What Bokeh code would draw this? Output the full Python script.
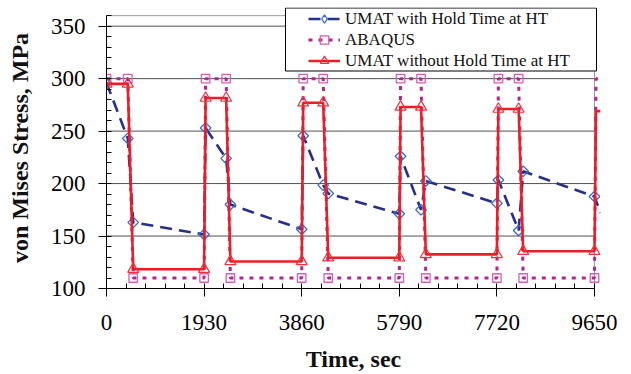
import numpy as np
from bokeh.plotting import figure
from bokeh.models import Range1d, SingleIntervalTicker, Legend, LegendItem, BoxAnnotation
from bokeh.embed import file_html
from bokeh.resources import INLINE

# ---- data ----
time_umat_hold = [0, 421, 528, 1930, 1960, 2366, 2450, 3860, 3890, 4285, 4385, 5790,
                  5815, 6220, 6315, 7720, 7750, 8150, 8240, 9650, 9770]
stress_umat_hold = [296, 243, 163, 151.5, 253, 224, 180, 156.5, 245.5, 198.5, 190.5, 171.2,
                    226, 175, 202.5, 181.2, 203.4, 155.3, 211.7, 187.6, 172]

time_abaqus = [0, 421, 528, 1930, 1960, 2366, 2450, 3860, 3890, 4285, 4385, 5790,
               5815, 6220, 6315, 7720, 7750, 8150, 8240, 9650, 9680, 9770]
stress_abaqus = [300, 300, 110, 110, 300, 300, 110, 110, 300, 300, 110, 110,
                 300, 300, 110, 110, 300, 300, 110, 110, 300, 300]

time_umat_nohold = [0, 421, 528, 1930, 1960, 2366, 2450, 3860, 3890, 4285, 4385, 5790,
                    5815, 6220, 6315, 7720, 7750, 8150, 8240, 9650, 9680, 9770]
stress_umat_nohold = [295, 295, 118.4, 118.4, 281.5, 281.5, 125.8, 125.8, 277, 277, 129.3, 129.3,
                      273, 273, 132.5, 132.5, 271, 271, 135.5, 135.5, 269, 269]

x_ticks_interval = 1930
y_ticks_interval = 50
y_grid_ticks = [150, 200, 250, 300, 350]
series_names = ["UMAT with Hold Time at HT", "ABAQUS", "UMAT without Hold Time at HT"]
x_title = "Time, sec"
y_title = "von Mises Stress, MPa"

X_MIN, X_MAX = 0, 9650      # axis limits of the chart
Y_MIN, Y_MAX = 100, 360
X_VIEW_END = 9769           # a little room so lines run past the last tick, as in the original
Y_VIEW_END = 367.8          # room above the frame for the legend box
FONT = "Liberation Serif"

BLUE_LINE, BLUE_MARK = "#262F8A", "#3A6CC6"
MAG_LINE, MAG_MARK = "#B0268C", "#DA5CB8"
RED_LINE, RED_MARK = "#EE1C25", "#F0303A"

p = figure(width=631, height=374, output_backend="svg", toolbar_location=None,
           x_range=Range1d(X_MIN, X_VIEW_END), y_range=Range1d(Y_MIN, Y_VIEW_END),
           min_border_left=106, min_border_right=31, min_border_top=7, min_border_bottom=85)
p.background_fill_color = "white"
p.border_fill_color = "white"
p.outline_line_color = None

# axes
p.xaxis.ticker = SingleIntervalTicker(interval=x_ticks_interval, num_minor_ticks=5)
p.yaxis.ticker = SingleIntervalTicker(interval=y_ticks_interval, num_minor_ticks=5)
p.xaxis.bounds = (X_MIN, X_MAX)
p.yaxis.bounds = (Y_MIN, Y_MAX)
for ax in (p.xaxis[0], p.yaxis[0]):
    ax.axis_line_color = "black"
    ax.axis_line_width = 1
    ax.major_tick_line_color = "black"
    ax.minor_tick_line_color = "black"
    ax.major_tick_in = 0
    ax.major_tick_out = 8
    ax.minor_tick_in = 5
    ax.minor_tick_out = 0
    ax.major_label_text_font = FONT
    ax.major_label_text_font_size = "23px"
    ax.major_label_text_color = "black"
    ax.axis_label_text_font = FONT
    ax.axis_label_text_font_size = "24px"
    ax.axis_label_text_font_style = "bold"
    ax.axis_label_text_color = "#111111"

p.xaxis.axis_label = x_title
p.yaxis.axis_label = y_title
p.xaxis.major_label_standoff = 18
p.xaxis.axis_label_standoff = 13
p.yaxis.major_label_standoff = 13
p.yaxis.axis_label_standoff = 15

p.xgrid.visible = False
p.ygrid.visible = False

# horizontal grid lines and the grey top/right frame edges of the original chart
n = len(y_grid_ticks)
p.segment(x0=[X_MIN] * n, x1=[X_MAX] * n, y0=y_grid_ticks, y1=y_grid_ticks,
          line_color="#505050", line_width=1)
p.segment(x0=[X_MIN, X_MAX], x1=[X_MAX, X_MAX], y0=[Y_MAX, Y_MIN], y1=[Y_MAX, Y_MAX],
          line_color="#9a9a9a", line_width=1)

# series
def marker_subset(t, s):
    t = np.asarray(t, dtype=float)
    s = np.asarray(s, dtype=float)
    m = t <= X_MAX
    return t[m], s[m]

l1 = p.line(time_umat_hold, stress_umat_hold, line_color=BLUE_LINE, line_width=2.6, line_dash="12 7")
mx, my = marker_subset(time_umat_hold, stress_umat_hold)
p.scatter(mx, my, marker="square", angle=np.pi / 4, size=7.5, fill_alpha=0,
          line_color=BLUE_MARK, line_width=1.3)
# legend swatch: legend markers are drawn unrotated, so use a zero-size diamond
# renderer (invisible in the plot, drawn at legend size in the legend)
s1 = p.scatter(mx, my, marker="diamond", size=0, fill_alpha=0,
               line_color=BLUE_MARK, line_width=1.3)

l2 = p.line(time_abaqus, stress_abaqus, line_color=MAG_LINE, line_width=3, line_dash="4 6")
mx, my = marker_subset(time_abaqus, stress_abaqus)
s2 = p.scatter(mx, my, marker="square", size=8.5, fill_alpha=0,
               line_color=MAG_MARK, line_width=1.3)

l3 = p.line(time_umat_nohold, stress_umat_nohold, line_color=RED_LINE, line_width=2.6)
mx, my = marker_subset(time_umat_nohold, stress_umat_nohold)
s3 = p.scatter(mx, my, marker="triangle", size=11, fill_alpha=0,
               line_color=RED_MARK, line_width=1.2)

# legend frame
box = BoxAnnotation(left=285, right=596, top=7.5, bottom=70.5,
                    left_units="canvas", right_units="canvas",
                    top_units="canvas", bottom_units="canvas",
                    fill_color="white", fill_alpha=1,
                    line_color="black", line_width=1, line_alpha=1)
p.add_layout(box)

legend = Legend(items=[LegendItem(label=series_names[0], renderers=[l1, s1]),
                       LegendItem(label=series_names[1], renderers=[l2, s2]),
                       LegendItem(label=series_names[2], renderers=[l3, s3])],
                location=(202, 217), padding=0, spacing=0, margin=0,
                label_height=21, glyph_height=21, glyph_width=32, label_standoff=5,
                border_line_alpha=0, background_fill_alpha=0,
                label_text_font=FONT, label_text_font_size="17px", label_text_color="#111111")
p.add_layout(legend)

open("out.html", "w").write(file_html(p, INLINE))
